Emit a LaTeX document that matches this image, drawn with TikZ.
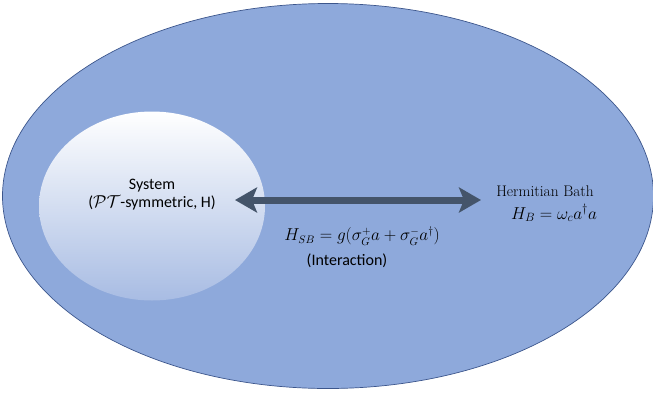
\documentclass[tikz,border=0pt]{standalone}
\usepackage{fontspec}
\newfontfamily\calibri{Carlito}
\usetikzlibrary{shapes.geometric,arrows.meta}
\definecolor{mandi}{RGB}{142,169,219}
\definecolor{tepi}{RGB}{60,86,140}
\definecolor{bawah}{RGB}{168,188,227}
\definecolor{panah}{RGB}{68,84,106}
\begin{document}
\begin{tikzpicture}[x=1pt,y=-1pt,
      teks/.style={align=center,inner sep=0pt,font=\calibri\fontsize{16}{18}\selectfont},
      rumus/.style={inner sep=0pt,font=\fontsize{15.4}{18}\selectfont},
      pn/.style={{Stealth[length=22pt,width=25pt,inset=5pt]}-{Stealth[length=22pt,width=25pt,inset=5pt]},
        line width=7pt,draw=panah}]
    \useasboundingbox (0,0) rectangle (653,397);

    % Bak besar (bath) dan sistem di dalamnya
    \node[ellipse,draw=tepi,fill=mandi,line width=0.7pt,
      minimum width=651pt,minimum height=385pt] (bath) at (328,196) {};
    \node[ellipse,top color=white,bottom color=bawah,
      minimum width=226pt,minimum height=189pt] (sys) at (152,206) {};

    % Tulisan
    \node[teks] (systxt) at (152,195) {System\\($\mathcal{PT}$-symmetric, H)};
    \node[rumus] (bathtxt) at (545,191) {Hermitian Bath};
    \node[rumus,font=\fontsize{17.5}{20}\selectfont] (hb) at (554,213) {$H_B=\omega_c a^\dagger a$};
    \node[rumus,font=\fontsize{16}{19}\selectfont] (hsb) at (362,236)
      {$H_{SB}=g\bigl(\sigma_G^+a+\sigma_G^-a^\dagger\bigr)$};
    \node[teks] (inter) at (347,261) {(Interaction)};

    % Panah interaksi
    \coordinate (ujungkiri) at (235,200);
    \coordinate (ujungkanan) at (481,200);
    \draw[pn] (ujungkiri) -- (ujungkanan);
  \end{tikzpicture}
\end{document}
